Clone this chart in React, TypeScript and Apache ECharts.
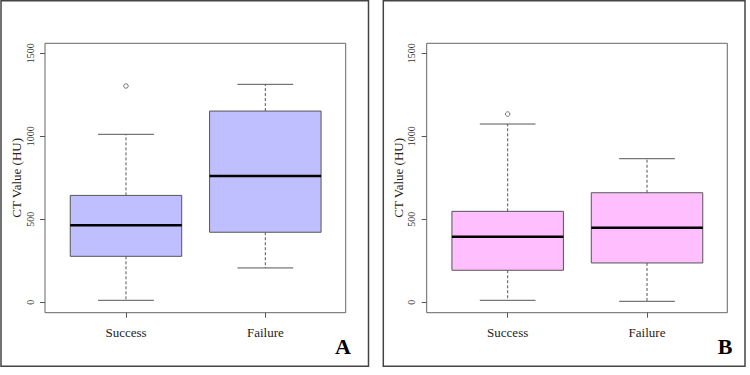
import React, { useEffect, useRef } from "react";
import * as echarts from "echarts";

const categories = ["Success", "Failure"];
// [min whisker, Q1, median, Q3, max whisker]
const boxA = [
  [12, 277, 464, 644, 1012],
  [207, 422, 761, 1152, 1313],
];
const outliersA = [[0, 1303]];
const boxB = [
  [12, 193, 395, 548, 1074],
  [6, 237, 449, 660, 865],
];
const outliersB = [[0, 1134]];
const yMin = 0;
const yMax = 1500;
const yInterval = 500;

const FONT = "Liberation Serif";
const STROKE = "#555";

function renderBox(fill: string) {
  return (params: any, api: any) => {
    const x = api.value(0);
    const pLo = api.coord([x, api.value(1)]);
    const pQ1 = api.coord([x, api.value(2)]);
    const pMed = api.coord([x, api.value(3)]);
    const pQ3 = api.coord([x, api.value(4)]);
    const pHi = api.coord([x, api.value(5)]);
    const w = api.size([1, 0])[0] * 0.8;
    const half = w / 2;
    const cx = pMed[0];
    return {
      type: "group",
      children: [
        {
          type: "line",
          shape: { x1: cx, y1: pQ3[1], x2: cx, y2: pHi[1] },
          style: { stroke: STROKE, lineWidth: 1, lineDash: [3, 2] },
        },
        {
          type: "line",
          shape: { x1: cx, y1: pQ1[1], x2: cx, y2: pLo[1] },
          style: { stroke: STROKE, lineWidth: 1, lineDash: [3, 2] },
        },
        {
          type: "line",
          shape: { x1: cx - half / 2, y1: pHi[1], x2: cx + half / 2, y2: pHi[1] },
          style: { stroke: STROKE, lineWidth: 1 },
        },
        {
          type: "line",
          shape: { x1: cx - half / 2, y1: pLo[1], x2: cx + half / 2, y2: pLo[1] },
          style: { stroke: STROKE, lineWidth: 1 },
        },
        {
          type: "rect",
          shape: { x: cx - half, y: pQ3[1], width: w, height: pQ1[1] - pQ3[1] },
          style: { fill, stroke: STROKE, lineWidth: 1 },
        },
        {
          type: "line",
          shape: { x1: cx - half, y1: pMed[1], x2: cx + half, y2: pMed[1] },
          style: { stroke: "#000", lineWidth: 2.5 },
        },
      ],
    };
  };
}

function makeAxes(gridIndex: number) {
  const xAxis = {
    type: "category",
    gridIndex,
    data: categories,
    boundaryGap: true,
    offset: 10.4,
    axisLine: { show: false, onZero: false },
    splitLine: { show: false },
    axisTick: {
      show: true,
      alignWithLabel: true,
      length: 5,
      lineStyle: { color: STROKE },
    },
    axisLabel: {
      fontSize: 13,
      fontFamily: FONT,
      color: "#222",
      margin: 13,
    },
  };
  const yAxis = {
    type: "value",
    gridIndex,
    min: yMin,
    max: yMax,
    interval: yInterval,
    offset: 11.3,
    name: "CT Value (HU)",
    nameLocation: "middle",
    nameGap: 22,
    nameTextStyle: { fontSize: 13, fontFamily: FONT, color: "#222" },
    axisLine: { show: false, onZero: false },
    splitLine: { show: false },
    axisTick: { show: true, length: 5, lineStyle: { color: STROKE } },
    axisLabel: {
      formatter: (v: number) => String(v),
      rotate: 90,
      fontSize: 10,
      fontFamily: FONT,
      color: "#333",
      margin: 10,
    },
  };
  return { xAxis, yAxis };
}

function outlierSeries(idx: number, data: number[][]) {
  return {
    type: "scatter",
    xAxisIndex: idx,
    yAxisIndex: idx,
    symbol: "circle",
    symbolSize: 4.5,
    itemStyle: { color: "#fff", borderColor: STROKE, borderWidth: 1 },
    data,
    silent: true,
    z: 5,
  };
}

function boxSeries(idx: number, data: number[][], fill: string) {
  return {
    type: "custom",
    xAxisIndex: idx,
    yAxisIndex: idx,
    renderItem: renderBox(fill),
    data: data.map((d, i) => [i, ...d]),
    encode: { x: 0, y: [1, 2, 3, 4, 5] },
    silent: true,
    clip: false,
    z: 3,
  };
}

export default function App() {
  const ref = useRef<HTMLDivElement>(null);
  useEffect(() => {
    if (!ref.current) return;
    const chart = echarts.init(ref.current, null, { renderer: "svg" });
    const a = makeAxes(0);
    const b = makeAxes(1);
    chart.setOption({
      animation: false,
      backgroundColor: "#fff",
      textStyle: { fontFamily: FONT },
      grid: [
        { left: 56.3, top: 53.3, width: 278.7, height: 249 },
        { left: 438, top: 53.3, width: 278.7, height: 249 },
      ],
      xAxis: [a.xAxis, b.xAxis],
      yAxis: [a.yAxis, b.yAxis],
      series: [
        boxSeries(0, boxA, "#BFBFFF"),
        outlierSeries(0, outliersA),
        boxSeries(1, boxB, "#FFBFFF"),
        outlierSeries(1, outliersB),
      ],
      graphic: [
        {
          type: "rect",
          shape: { x: 45, y: 43.3, width: 300.7, height: 269.4 },
          style: { fill: "none", stroke: "#666", lineWidth: 1 },
          silent: true,
        },
        {
          type: "rect",
          shape: { x: 426.7, y: 43.3, width: 300.6, height: 269.4 },
          style: { fill: "none", stroke: "#666", lineWidth: 1 },
          silent: true,
        },
        {
          type: "rect",
          shape: { x: 1, y: 0.75, width: 367.5, height: 365.5 },
          style: { fill: "none", stroke: "#444", lineWidth: 1.5 },
          silent: true,
        },
        {
          type: "rect",
          shape: { x: 383.3, y: 0.75, width: 361.7, height: 365.5 },
          style: { fill: "none", stroke: "#444", lineWidth: 1.5 },
          silent: true,
        },
        {
          type: "text",
          x: 343,
          y: 346,
          style: {
            text: "A",
            fontSize: 22,
            fontWeight: "bold",
            fontFamily: FONT,
            fill: "#000",
            align: "center",
            verticalAlign: "middle",
          },
          silent: true,
        },
        {
          type: "text",
          x: 725,
          y: 346,
          style: {
            text: "B",
            fontSize: 22,
            fontWeight: "bold",
            fontFamily: FONT,
            fill: "#000",
            align: "center",
            verticalAlign: "middle",
          },
          silent: true,
        },
      ],
    });
    return () => chart.dispose();
  }, []);
  return (
    <div
      ref={ref}
      style={{ position: "fixed", left: 0, top: 0, width: 750, height: 375 }}
    />
  );
}
